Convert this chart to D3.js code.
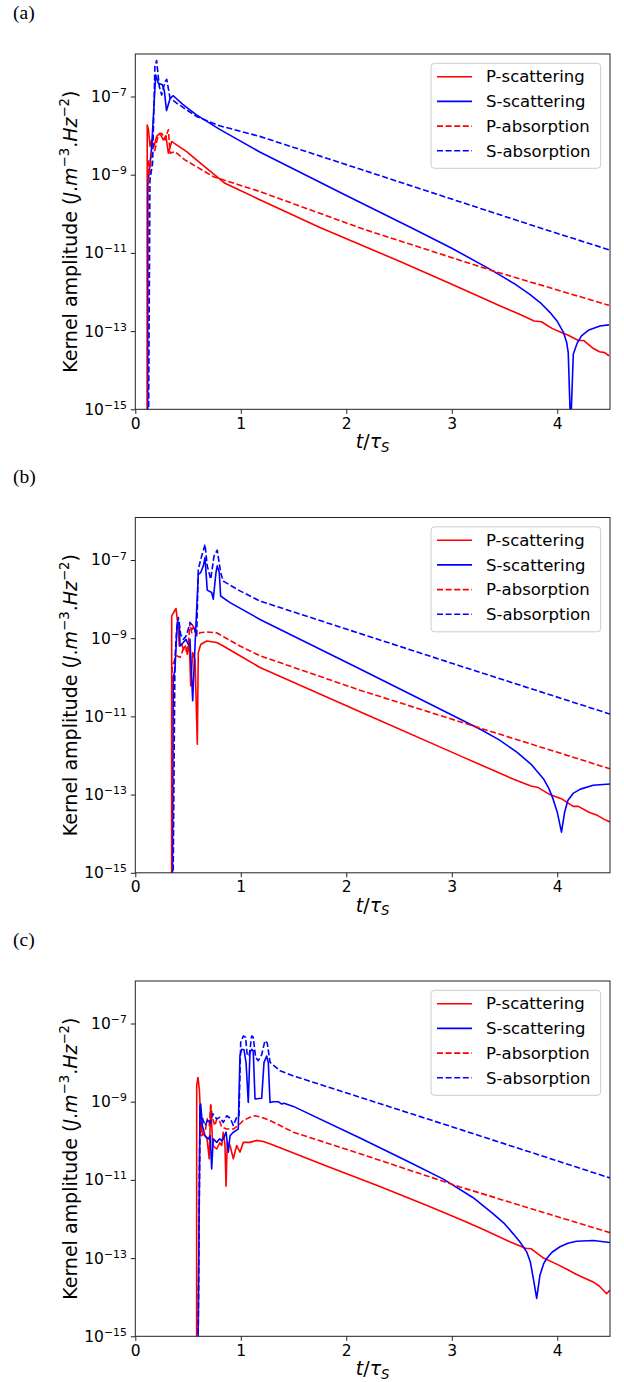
<!DOCTYPE html>
<html>
<head>
<meta charset="utf-8">
<script src="https://cdn.jsdelivr.net/npm/d3@7"></script>
<style>
body { margin: 0; background: #fff; }
svg { display: block; }
</style>
</head>
<body>
<svg id="fig" width="624" height="1382"></svg>
<script>
//Series are [t/tauS, log10(kernel amplitude)] pairs
//(a)
var aPscat = [[0.112,-20],[0.113,-7.73],[0.125,-7.85],[0.14,-8.28],[0.155,-8.11],[0.177,-8.28],[0.202,-8.02],[0.233,-7.94],[0.265,-8.11],[0.29,-8.0],[0.313,-8.45],[0.345,-8.15],[0.36,-8.18],[0.487,-8.41],[0.58,-8.62],[0.85,-9.22],[1.18,-9.64],[1.75,-10.35],[2.51,-11.22],[3.0,-11.8],[3.46,-12.36],[3.6,-12.52],[3.7,-12.64],[3.78,-12.74],[3.85,-12.76],[3.95,-12.93],[4.05,-13.05],[4.1,-13.1],[4.2,-13.24],[4.25,-13.24],[4.34,-13.44],[4.4,-13.53],[4.45,-13.55],[4.49,-13.63]];
var aSscat = [[0.117,-20],[0.118,-9.29],[0.155,-8.3],[0.193,-6.45],[0.218,-6.66],[0.256,-6.7],[0.275,-6.85],[0.296,-7.36],[0.33,-7.05],[0.36,-6.98],[0.45,-7.2],[0.58,-7.47],[0.8,-7.84],[1.18,-8.42],[2.0,-9.53],[2.64,-10.39],[3.0,-10.88],[3.39,-11.46],[3.6,-11.8],[3.74,-12.06],[3.85,-12.3],[3.93,-12.52],[4.0,-12.75],[4.06,-13.04],[4.09,-13.3],[4.104,-13.55],[4.127,-15.5],[4.152,-13.59],[4.19,-13.3],[4.23,-13.12],[4.3,-12.97],[4.405,-12.87],[4.49,-12.84]];
var aPabs = [[0.116,-20],[0.125,-8.62],[0.14,-8.96],[0.155,-8.45],[0.186,-8.37],[0.218,-7.98],[0.25,-7.94],[0.282,-8.11],[0.313,-7.85],[0.33,-8.45],[0.375,-8.41],[0.47,-8.62],[0.74,-9.05],[1.18,-9.43],[2.16,-10.39],[3.39,-11.46],[4.49,-12.34]];
var aSabs = [[0.116,-20],[0.139,-9.13],[0.164,-8.71],[0.186,-6.23],[0.202,-6.08],[0.227,-6.74],[0.25,-6.96],[0.282,-6.62],[0.298,-6.56],[0.329,-7.04],[0.392,-7.17],[0.58,-7.51],[0.8,-7.75],[1.18,-8.02],[3.87,-10.39],[4.49,-10.92]];
//(b)
var bPscat = [[0.344,-20],[0.345,-8.43],[0.386,-8.24],[0.408,-8.77],[0.417,-9.2],[0.44,-9.15],[0.455,-9.28],[0.475,-9.2],[0.493,-9.41],[0.512,-9.11],[0.525,-10.22],[0.544,-9.37],[0.566,-9.54],[0.588,-11.71],[0.597,-9.37],[0.62,-9.16],[0.677,-9.07],[0.772,-9.11],[0.834,-9.2],[0.992,-9.45],[1.182,-9.75],[2.13,-10.88],[3.08,-12.01],[3.58,-12.6],[3.75,-12.78],[3.82,-12.82],[3.93,-13.0],[4.05,-13.12],[4.15,-13.3],[4.2,-13.3],[4.3,-13.45],[4.38,-13.53],[4.45,-13.64],[4.5,-13.7]];
var bSscat = [[0.344,-20],[0.36,-10.04],[0.376,-9.79],[0.398,-8.6],[0.417,-8.6],[0.424,-9.2],[0.455,-9.11],[0.481,-9.03],[0.502,-9.16],[0.518,-9.03],[0.544,-10.6],[0.566,-9.2],[0.597,-7.37],[0.62,-7.32],[0.645,-7.15],[0.661,-6.94],[0.682,-7.77],[0.724,-7.83],[0.739,-8.0],[0.765,-7.32],[0.777,-7.15],[0.796,-7.32],[0.809,-7.92],[0.898,-8.09],[1.182,-8.52],[2.13,-9.79],[2.76,-10.64],[3.27,-11.33],[3.45,-11.6],[3.62,-11.92],[3.75,-12.22],[3.87,-12.6],[3.92,-12.84],[3.96,-13.11],[4.0,-13.45],[4.04,-13.96],[4.07,-13.45],[4.10,-13.15],[4.15,-12.97],[4.22,-12.86],[4.34,-12.76],[4.5,-12.73]];
var bPabs = [[0.344,-20],[0.35,-9.7],[0.392,-9.45],[0.424,-9.49],[0.455,-9.28],[0.48,-9.35],[0.502,-9.2],[0.518,-8.6],[0.535,-8.86],[0.55,-8.69],[0.582,-8.94],[0.613,-8.86],[0.677,-8.84],[0.772,-8.86],[0.834,-8.96],[0.992,-9.2],[1.182,-9.45],[2.13,-10.33],[3.27,-11.3],[4.5,-12.34]];
var bSabs = [[0.344,-20],[0.376,-9.54],[0.392,-8.77],[0.408,-8.47],[0.43,-8.9],[0.455,-9.03],[0.48,-8.95],[0.502,-8.77],[0.518,-8.6],[0.55,-8.69],[0.582,-8.94],[0.597,-7.24],[0.629,-6.9],[0.661,-6.6],[0.682,-7.15],[0.715,-7.49],[0.746,-6.9],[0.777,-6.75],[0.809,-7.32],[0.834,-7.54],[0.992,-7.79],[1.182,-8.05],[2.13,-8.88],[3.08,-9.71],[4.5,-10.94]];
//(c)
var cPscat = [[0.581,-20],[0.582,-8.59],[0.594,-8.38],[0.607,-8.68],[0.62,-9.44],[0.635,-9.82],[0.661,-9.87],[0.68,-9.95],[0.701,-10.46],[0.715,-9.08],[0.734,-10.12],[0.772,-10.21],[0.8,-10.05],[0.819,-10.12],[0.834,-9.78],[0.85,-10.1],[0.86,-11.16],[0.872,-10.04],[0.898,-10.12],[0.929,-10.46],[0.961,-10.12],[0.992,-10.29],[1.024,-10.04],[1.087,-10.04],[1.151,-9.99],[1.213,-10.02],[1.3,-10.1],[1.8,-10.63],[2.3,-11.15],[2.76,-11.65],[3.1,-12.03],[3.3,-12.27],[3.55,-12.58],[3.7,-12.75],[3.75,-12.76],[3.87,-13.0],[4.0,-13.16],[4.1,-13.3],[4.184,-13.42],[4.25,-13.5],[4.341,-13.61],[4.4,-13.72],[4.468,-13.91],[4.5,-13.82]];
var cSscat = [[0.581,-20],[0.613,-9.19],[0.62,-9.06],[0.635,-9.61],[0.661,-9.87],[0.692,-9.95],[0.71,-9.87],[0.724,-10.72],[0.739,-9.95],[0.772,-10.04],[0.8,-9.95],[0.819,-10.0],[0.834,-9.95],[0.86,-9.78],[0.882,-10.29],[0.898,-9.87],[0.929,-9.78],[0.976,-9.7],[0.992,-7.83],[1.009,-7.66],[1.03,-7.67],[1.05,-8.0],[1.071,-9.02],[1.087,-7.74],[1.103,-7.66],[1.118,-7.7],[1.135,-8.93],[1.198,-8.91],[1.22,-8.0],[1.245,-7.83],[1.261,-8.0],[1.277,-9.02],[1.308,-9.0],[1.355,-9.0],[1.388,-9.06],[1.41,-9.04],[1.498,-9.12],[2.13,-9.93],[2.6,-10.55],[2.92,-10.98],[3.2,-11.45],[3.39,-11.86],[3.5,-12.12],[3.583,-12.38],[3.65,-12.6],[3.71,-12.84],[3.745,-13.1],[3.773,-13.52],[3.805,-14.03],[3.836,-13.44],[3.87,-13.15],[3.9,-13.01],[3.95,-12.85],[4.026,-12.71],[4.1,-12.62],[4.184,-12.57],[4.341,-12.55],[4.5,-12.6]];
var cPabs = [[0.581,-20],[0.613,-9.53],[0.629,-9.87],[0.661,-9.78],[0.682,-9.44],[0.701,-9.61],[0.715,-9.1],[0.734,-9.44],[0.755,-9.61],[0.772,-9.44],[0.8,-9.5],[0.819,-9.65],[0.866,-9.7],[0.929,-9.7],[0.976,-9.61],[1.024,-9.48],[1.087,-9.4],[1.135,-9.36],[1.198,-9.4],[1.277,-9.48],[1.498,-9.78],[2.13,-10.33],[3.078,-11.18],[4.5,-12.35]];
var cSabs = [[0.581,-20],[0.613,-9.1],[0.629,-9.36],[0.661,-9.61],[0.692,-9.44],[0.71,-9.55],[0.734,-9.31],[0.772,-9.44],[0.8,-9.4],[0.834,-9.53],[0.866,-9.36],[0.9,-9.42],[0.929,-9.61],[0.961,-9.4],[0.983,-9.36],[0.999,-7.48],[1.024,-7.32],[1.045,-7.35],[1.062,-7.83],[1.081,-7.8],[1.103,-7.32],[1.118,-7.35],[1.141,-7.87],[1.166,-7.95],[1.198,-7.8],[1.229,-7.44],[1.251,-7.5],[1.277,-7.99],[1.372,-8.21],[1.498,-8.34],[3.0,-9.64],[4.5,-10.95]];

var seriesNames = ["P-scattering", "S-scattering", "P-absorption", "S-absorption"];
var seriesColors = ["#ff0000", "#0000ff", "#ff0000", "#0000ff"];
var seriesDashed = [false, false, true, true];
var panelLabels = ["(a)", "(b)", "(c)"];
var panelData = [[aPscat, aSscat, aPabs, aSabs], [bPscat, bSscat, bPabs, bSabs], [cPscat, cSscat, cPabs, cSabs]];
var xTicks = [0, 1, 2, 3, 4];
var yTickExps = [-15, -13, -11, -9, -7];
var xDomain = [0, 4.5];
var yDomainExp = [-15, -5.913];

//Layout
var left = 135.3, right = 610, plotH = 355.3;
var panelTops = [54, 517.5, 981];
var svg = d3.select("#fig");
var font = "DejaVu Sans";

var x = d3.scaleLinear().domain(xDomain).range([left, right]);

panelData.forEach(function(series, p) {
    var top = panelTops[p];
    var bottom = top + plotH;
    var y = d3.scaleLog().domain([Math.pow(10, yDomainExp[0]), Math.pow(10, yDomainExp[1])]).range([bottom, top]);
    var g = svg.append("g");

    //Panel letter
    g.append("text").attr("x", 13).attr("y", top - 35).attr("font-family", "Liberation Serif").attr("font-size", 19.5).text(panelLabels[p]);

    //clip
    var clipId = "clip" + p;
    g.append("clipPath").attr("id", clipId).append("rect").attr("x", left).attr("y", top).attr("width", right - left).attr("height", plotH);

    var line = d3.line().x(function(d) { return x(d[0]); }).y(function(d) { return y(Math.pow(10, d[1])); });
    var lines = g.append("g").attr("clip-path", "url(#" + clipId + ")");
    series.forEach(function(s, i) {
        lines.append("path").datum(s).attr("d", line).attr("fill", "none").attr("stroke", seriesColors[i]).attr("stroke-width", 1.6).attr("stroke-linejoin", "round").attr("stroke-dasharray", seriesDashed[i] ? "6,2.6" : null);
    });

    //Axes
    var xAxis = g.append("g").attr("transform", "translate(0," + bottom + ")").call(d3.axisBottom(x).tickValues(xTicks).tickFormat(d3.format("d")).tickSize(4.5).tickPadding(4).tickSizeOuter(0));
    xAxis.selectAll("text").attr("font-family", font).attr("font-size", 15.5).attr("fill", "#000");
    var yAxis = g.append("g").attr("transform", "translate(" + left + ",0)").call(d3.axisLeft(y).tickValues(yTickExps.map(function(e) { return Math.pow(10, e); })).tickSize(4.5).tickPadding(4).tickSizeOuter(0));
    yAxis.selectAll(".tick text").attr("font-family", font).attr("font-size", 15.5).attr("fill", "#000").each(function(d) {
        var e = Math.round(Math.log10(d));
        var t = d3.select(this).text("10");
        t.append("tspan").attr("dy", "-0.55em").attr("font-size", "70%").text("\u2212" + Math.abs(e));
    });
    g.selectAll(".domain").remove();
    g.selectAll(".tick line").attr("stroke", "#222").attr("stroke-width", 1);

    //frame
    g.append("rect").attr("x", left).attr("y", top).attr("width", right - left).attr("height", plotH).attr("fill", "none").attr("stroke", "#222").attr("stroke-width", 1);

    //axis labels
    var xl = g.append("text").attr("x", (left + right) / 2).attr("y", bottom + 39).attr("text-anchor", "middle").attr("font-family", font).attr("font-size", 19);
    xl.append("tspan").attr("font-style", "italic").text("t");
    xl.append("tspan").text("/");
    xl.append("tspan").attr("font-style", "italic").text("\u03c4");
    xl.append("tspan").attr("font-style", "italic").attr("font-size", 13.3).attr("dy", 3.5).text("S");

    var yl = g.append("text").attr("transform", "translate(77," + (top + plotH / 2) + ") rotate(-90)").attr("text-anchor", "middle").attr("font-family", font).attr("font-size", 19);
    yl.append("tspan").text("Kernel amplitude (");
    yl.append("tspan").attr("font-style", "italic").text("J");
    yl.append("tspan").text(".");
    yl.append("tspan").attr("font-style", "italic").text("m");
    yl.append("tspan").attr("font-size", 13.3).attr("dy", -8).text("\u22123");
    yl.append("tspan").attr("dy", 8).text(".");
    yl.append("tspan").attr("font-style", "italic").text("Hz");
    yl.append("tspan").attr("font-size", 13.3).attr("dy", -8).text("\u22122");
    yl.append("tspan").attr("dy", 8).text(")");

    //legend
    var lg = g.append("g").attr("transform", "translate(431," + (top + 9.3) + ")");
    lg.append("rect").attr("width", 169.7).attr("height", 105).attr("rx", 3.5).attr("fill", "#fff").attr("fill-opacity", 0.8).attr("stroke", "#cccccc").attr("stroke-width", 1);
    seriesNames.forEach(function(name, i) {
        var ry = 13.4 + i * 24.7;
        lg.append("line").attr("x1", 6).attr("x2", 41).attr("y1", ry).attr("y2", ry).attr("stroke", seriesColors[i]).attr("stroke-width", 1.6).attr("stroke-dasharray", seriesDashed[i] ? "6,2.6" : null);
        lg.append("text").attr("x", 55).attr("y", ry + 5.8).attr("font-family", font).attr("font-size", 16.5).text(name);
    });
});
</script>
</body>
</html>
